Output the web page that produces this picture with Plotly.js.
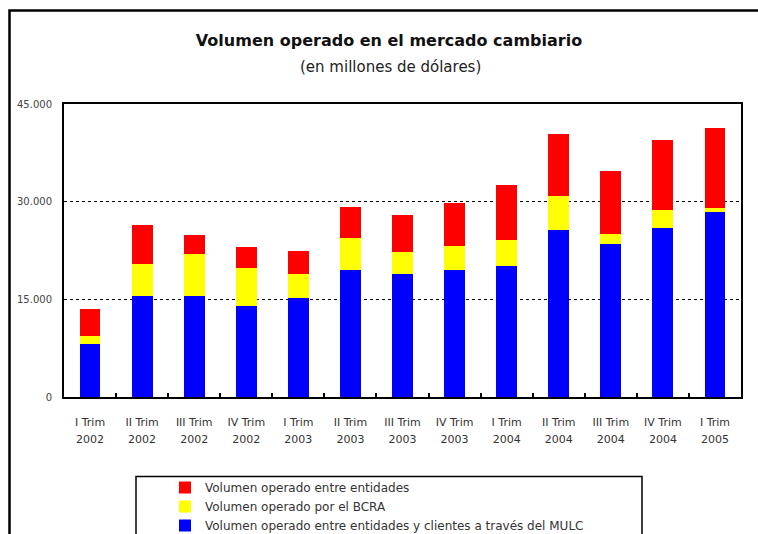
<!DOCTYPE html>
<html>
<head>
<meta charset="utf-8">
<script src="https://cdn.plot.ly/plotly-3.0.1.min.js"></script>
<style>html,body{margin:0;padding:0;background:#fff;}#chart{width:758px;height:534px;}</style>
</head>
<body>
<div id="chart"></div>
<script>
// ---- data ----
const quarters = ["I Trim","II Trim","III Trim","IV Trim","I Trim","II Trim","III Trim","IV Trim","I Trim","II Trim","III Trim","IV Trim","I Trim"];
const years = ["2002","2002","2002","2002","2003","2003","2003","2003","2004","2004","2004","2004","2005"];
const mulc = [8160,15510,15510,13980,15200,19490,18880,19490,20100,25610,23470,25920,28370];
const bcra = [1230,4900,6430,5820,3670,4900,3370,3670,3980,5200,1530,2750,610];
const entidades = [4130,5970,2910,3210,3520,4750,5660,6580,8420,9640,9640,10870,12400];
const yTickVals = [0,15000,30000,45000];
const yTickText = ["0","15.000","30.000","45.000"];
const seriesNames = ["Volumen operado entre entidades y clientes a través del MULC","Volumen operado por el BCRA","Volumen operado entre entidades"];
const seriesColors = ["#0000FF","#FFFF00","#FF0000"];

const categories = quarters.map((q,i)=>q+" "+years[i]);

const traces = [mulc,bcra,entidades].map((vals,i)=>({
  type:"bar", x:categories, y:vals, name:seriesNames[i],
  marker:{color:seriesColors[i], line:{width:0}}, xaxis:"x", yaxis:"y"
}));
// helper trace carrying the year labels on the overlaid axis (draws nothing)
traces.push({type:"scatter", mode:"none", x:categories, y:mulc, xaxis:"x2", yaxis:"y", showlegend:false, hoverinfo:"skip"});

const FONT = "DejaVu Sans, Arial, sans-serif";
const W=758, H=534;
const L=64, R=741, T=104, B=397;
const px=(x)=>(x-L)/(R-L), py=(y)=>(B-y)/(B-T);

const layout = {
  width:W, height:H,
  margin:{l:L, r:W-R, t:T, b:H-B, pad:0, autoexpand:false},
  paper_bgcolor:"#fff", plot_bgcolor:"#fff",
  barmode:"stack", bargap:0.6,
  font:{family:FONT, color:"#333"},
  title:{text:"Volumen operado en el mercado cambiario", font:{family:FONT, size:16, color:"#111", weight:"bold"},
         xref:"container", x:389/W, xanchor:"center", yref:"container", y:(H-40)/H, yanchor:"middle"},
  annotations:[{text:"(en millones de dólares)", xref:"paper", yref:"paper", x:px(390), y:py(67),
    xanchor:"center", yanchor:"middle", showarrow:false, font:{family:FONT, size:15, color:"#222"}}],
  xaxis:{type:"category", categoryorder:"array", categoryarray:categories, tickvals:categories, ticktext:quarters,
    range:[-0.5,12.5], showline:true, mirror:true, linecolor:"#000", linewidth:2,
    ticks:"inside", tickson:"boundaries", ticklen:4, tickwidth:2, tickcolor:"#000",
    tickfont:{family:FONT, size:11, color:"#333"}, showgrid:false, ticklabelstandoff:14, fixedrange:true},
  xaxis2:{type:"category", overlaying:"x", anchor:"y", side:"bottom", categoryorder:"array", categoryarray:categories,
    tickvals:categories, ticktext:years, range:[-0.5,12.5], showline:false, ticks:"", showgrid:false,
    tickfont:{family:FONT, size:11, color:"#333"}, ticklabelstandoff:34},
  yaxis:{range:[0,45000], tickvals:yTickVals, ticktext:yTickText, showline:true, mirror:true, linecolor:"#000", linewidth:2,
    ticks:"", showgrid:true, gridcolor:"#000", griddash:"dot", gridwidth:1.5, zeroline:false,
    tickfont:{family:FONT, size:10, color:"#444"}, ticklabelstandoff:8},
  legend:{orientation:"v", traceorder:"reversed", xref:"container", yref:"container",
    x:165/W, xanchor:"left", y:(H-473)/H, yanchor:"top",
    bgcolor:"rgba(0,0,0,0)", borderwidth:0, font:{family:FONT, size:12, color:"#333"}, tracegroupgap:0},
  showlegend:true,
  shapes:[
    {type:"rect", xref:"paper", yref:"paper", x0:px(9.5), x1:px(775), y0:py(580), y1:py(10.5), line:{color:"#000", width:2.5}, layer:"above"},
    {type:"rect", xref:"paper", yref:"paper", x0:px(136), x1:px(642), y0:py(580), y1:py(476.5), line:{color:"#000", width:1.5}, layer:"above"}
  ]
};
Plotly.newPlot("chart", traces, layout, {staticPlot:true, displayModeBar:false});
</script>
</body>
</html>
